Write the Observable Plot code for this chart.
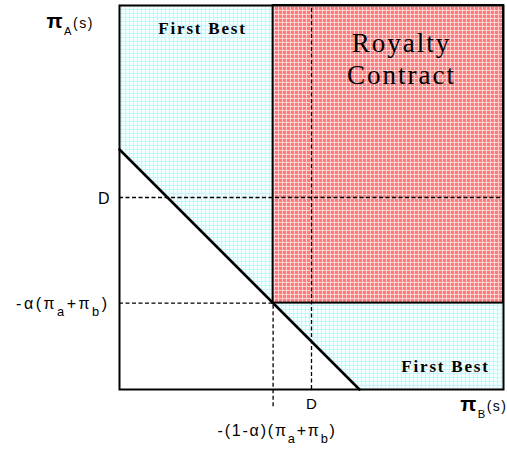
<!DOCTYPE html>
<html>
<head>
<meta charset="utf-8">
<script src="https://cdn.jsdelivr.net/npm/d3@7"></script>
<script src="https://cdn.jsdelivr.net/npm/@observablehq/plot@0.6"></script>
<style>
  html, body { margin: 0; padding: 0; background: #fff; }
</style>
</head>
<body>
<div id="chart"></div>
<script>
// ---- data (abstract payoff units) ----
const domainX = [0, 10];
const domainY = [0, 10];
// boundary line  πA + πB = const
const boundaryX = [0, 6.25];
const boundaryY = [6.25, 0];
// thresholds
const splitX = [4];      // -(1-α)(πa+πb)
const splitY = [2.25];   // -α(πa+πb)
const dX = [5];          // D on πB axis
const dY = [5];          // D on πA axis
const xTickLabels = ["-(1-α)(π_{a}+π_{b})", "D"];
const yTickLabels = ["-α(π_{a}+π_{b})", "D"];
const axisTitles = ["*π*_{A}(s)", "*π*_{B}(s)"];
const regionLabels = ["First Best", "Royalty\nContract", "First Best"];

// derived tables
const diag = boundaryX.map((x, i) => ({x, y: boundaryY[i]}));
const lineAt = x => boundaryY[0] + (boundaryY[1] - boundaryY[0]) * (x - boundaryX[0]) / (boundaryX[1] - boundaryX[0]);
const upperLeft = [0, splitX[0]].map(x => ({x, y1: lineAt(x), y2: domainY[1]}));
const lowerRight = [splitX[0], boundaryX[1], domainX[1]].map(x => ({x, y1: Math.max(domainY[0], lineAt(x)), y2: splitY[0]}));
const royalty = [{x1: splitX[0], x2: domainX[1], y1: splitY[0], y2: domainY[1]}];
const xTickSplit = [{v: splitX[0], label: xTickLabels[0]}];
const xTickD = [{v: dX[0], label: xTickLabels[1]}];
const yTicks = [{v: splitY[0], label: yTickLabels[0]}, {v: dY[0], label: yTickLabels[1]}];

const sans = "Liberation Sans, Arial, sans-serif";
const serif = "Liberation Serif, Times New Roman, serif";
const dash = "4,2.5";
const chart = Plot.plot({
  width: 507,
  height: 452,
  marginLeft: 119,
  marginRight: 4,
  marginTop: 5,
  marginBottom: 63,
  style: {fontFamily: sans},
  x: {domain: domainX, axis: null},
  y: {domain: domainY, axis: null},
  marks: [
    Plot.areaY(upperLeft, {x: "x", y1: "y1", y2: "y2", fill: "url(#cyanDots)"}),
    Plot.areaY(lowerRight, {x: "x", y1: "y1", y2: "y2", fill: "url(#cyanDots)"}),
    Plot.rect(royalty, {x1: "x1", x2: "x2", y1: "y1", y2: "y2", fill: "url(#redDots)"}),
    Plot.ruleY(dY, {x1: domainX[0], x2: domainX[1], stroke: "black", strokeWidth: 1.3, strokeDasharray: dash}),
    Plot.ruleY(splitY, {x1: domainX[0], x2: splitX[0], stroke: "black", strokeWidth: 1.3, strokeDasharray: dash}),
    Plot.ruleX(dX, {y1: domainY[0], y2: domainY[1], stroke: "black", strokeWidth: 1.3, strokeDasharray: dash}),
    Plot.ruleX(splitX, {y1: -0.45, y2: splitY[0], stroke: "black", strokeWidth: 1.3, strokeDasharray: dash}),
    Plot.rect(royalty, {x1: "x1", x2: "x2", y1: "y1", y2: "y2", fill: "none", stroke: "black", strokeWidth: 2}),
    Plot.line(diag, {x: "x", y: "y", stroke: "black", strokeWidth: 2.6}),
    Plot.frame({stroke: "black", strokeWidth: 2}),
    // tick labels
    Plot.text(yTicks, {x: domainX[0], y: "v", text: "label", textAnchor: "end", dx: -10, dy: 1, fontSize: 16, fontFamily: sans}),
    Plot.text(xTickD, {x: "v", y: domainY[0], text: "label", fontSize: 15, dy: 15, fontFamily: sans}),
    Plot.text(xTickSplit, {x: "v", y: domainY[0], text: "label", fontSize: 16, dx: 4, dy: 41, fontFamily: sans}),
    // axis titles
    Plot.text([axisTitles[0]], {frameAnchor: "top-left", text: d => d, textAnchor: "start", dx: -73, dy: 13, fontSize: 14, fontFamily: sans}),
    Plot.text([axisTitles[1]], {frameAnchor: "bottom-right", text: d => d, textAnchor: "end", dx: 4, dy: 21, fontSize: 14, fontFamily: sans}),
    // region labels
    Plot.text([regionLabels[0]], {frameAnchor: "top-left", text: d => d, dx: 83, dy: 16, fontSize: 17, fontWeight: "bold", fontFamily: serif, textAnchor: "middle"}),
    Plot.text([regionLabels[1]], {frameAnchor: "top-right", text: d => d, dx: -102, dy: 24, fontSize: 27, fontFamily: serif, textAnchor: "middle", lineHeight: 1.18}),
    Plot.text([regionLabels[2]], {frameAnchor: "bottom-right", text: d => d, dx: -58, dy: -18, fontSize: 17, fontWeight: "bold", fontFamily: serif, textAnchor: "middle"})
  ]
});

// patterns
const svg = d3.select(chart);
const defs = svg.insert("defs", ":first-child");
const cy = defs.append("pattern").attr("id", "cyanDots").attr("patternUnits", "userSpaceOnUse").attr("width", 4).attr("height", 4);
cy.append("rect").attr("width", 4).attr("height", 4).attr("fill", "#f3feff");
cy.append("rect").attr("x", 0).attr("y", 1).attr("width", 4).attr("height", 1).attr("fill", "#c2f8fd");
cy.append("rect").attr("x", 1).attr("y", 0).attr("width", 1).attr("height", 4).attr("fill", "#c2f8fd");
const rd = defs.append("pattern").attr("id", "redDots").attr("patternUnits", "userSpaceOnUse").attr("width", 4).attr("height", 4);
rd.append("rect").attr("width", 4).attr("height", 4).attr("fill", "#ff7a7a");
rd.append("rect").attr("x", 0).attr("y", 2).attr("width", 4).attr("height", 1).attr("fill", "#ffd0d0");
rd.append("rect").attr("x", 2).attr("y", 0).attr("width", 1).attr("height", 4).attr("fill", "#ffd0d0");

// letter spacing to mimic the wide bitmap font of the original
const spacing = new Map([
  [yTickLabels[0], "2.5px"],
  [xTickLabels[0], "1.8px"],
  [regionLabels[0], "1.8px"],
  [axisTitles[0], "1.5px"],
  [axisTitles[1], "1.5px"]
]);
svg.selectAll("text").each(function() {
  const t = this.textContent;
  if (spacing.has(t)) this.style.letterSpacing = spacing.get(t);
  if (t === regionLabels[1].replace("\n", "")) this.style.letterSpacing = "2px";
});

// rich text: *bold* and _{sub}
svg.selectAll("text").each(function() {
  const t = this.textContent;
  if (!/_\{|\*/.test(t)) return;
  const parts = t.split(/(\*[^*]+\*|_\{[^}]+\})/).filter(s => s.length);
  this.textContent = "";
  let shifted = false;
  for (const p of parts) {
    const ts = document.createElementNS("http://www.w3.org/2000/svg", "tspan");
    if (p.startsWith("_{")) {
      ts.textContent = p.slice(2, -1);
      ts.setAttribute("font-size", "0.8em");
      ts.setAttribute("dy", "7");
      shifted = true;
    } else {
      if (p.startsWith("*")) {
        ts.textContent = p.slice(1, -1);
        ts.setAttribute("font-weight", "bold");
        ts.setAttribute("font-size", "21");
      } else ts.textContent = p;
      if (shifted) { ts.setAttribute("dy", "-7"); shifted = false; }
    }
    this.appendChild(ts);
  }
});

document.getElementById("chart").appendChild(chart);
</script>
</body>
</html>
